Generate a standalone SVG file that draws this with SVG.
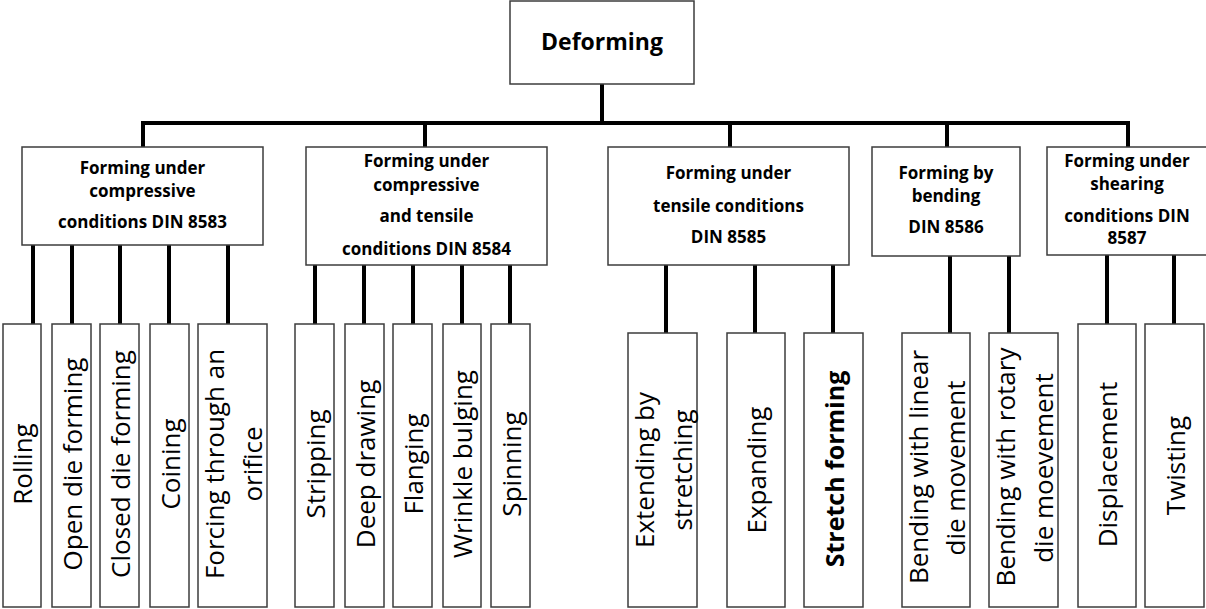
<svg xmlns="http://www.w3.org/2000/svg" width="1206" height="609" viewBox="0 0 1206 609">
<style>
.box{fill:#fff;stroke:#3c3c3c;stroke-width:1.5}
.c{stroke:#000;stroke-width:4;fill:none}
.t1{font-family:"Open Sans","DejaVu Sans",sans-serif;font-weight:bold;font-size:17px;text-anchor:middle;fill:#000}
.t0{font-family:"Open Sans","DejaVu Sans",sans-serif;font-weight:bold;font-size:23px;text-anchor:middle;fill:#000}
.lf{font-family:"Open Sans","DejaVu Sans",sans-serif;font-size:26px;text-anchor:middle;fill:#000}
.lb{font-family:"Open Sans","DejaVu Sans",sans-serif;font-size:25px;font-weight:bold;text-anchor:middle;fill:#000}
</style>
<rect width="1206" height="609" fill="#fff"/>
<g id="connectors">
<path class="c" d="M602 84V123M141 123H1130M143 123V147M425 123V147M730 123V147M947 123V147M1128 123V147"/>
<path class="c" d="M33 245V324M72 245V324M120 245V324M169 245V324M228 245V324"/>
<path class="c" d="M315 265V324M364 265V324M413 265V324M462 265V324M510 265V324"/>
<path class="c" d="M666 265V333M755 265V333M833 265V333"/>
<path class="c" d="M950 256V333M1009 256V333"/>
<path class="c" d="M1107 255V324M1174 255V324"/>
</g>
<g id="root"><rect class="box" x="510" y="1" width="184" height="83"/><text class="t0" x="602" y="50">Deforming</text></g>
<g id="compressive"><rect class="box" x="22" y="147" width="241" height="98"/>
<text class="t1" x="142.5" y="174">Forming under</text><text class="t1" x="142.5" y="197">compressive</text><text class="t1" x="142.5" y="228">conditions DIN 8583</text></g>
<g id="comp-tensile"><rect class="box" x="306" y="147" width="241" height="118"/>
<text class="t1" x="426.5" y="167">Forming under</text><text class="t1" x="426.5" y="191">compressive</text><text class="t1" x="426.5" y="222">and tensile</text><text class="t1" x="426.5" y="255">conditions DIN 8584</text></g>
<g id="tensile"><rect class="box" x="608" y="147" width="241" height="118"/>
<text class="t1" x="728.5" y="179">Forming under</text><text class="t1" x="728.5" y="212">tensile conditions</text><text class="t1" x="728.5" y="243">DIN 8585</text></g>
<g id="bending"><rect class="box" x="872" y="147" width="148" height="109"/>
<text class="t1" x="946" y="179">Forming by</text><text class="t1" x="946" y="202">bending</text><text class="t1" x="946" y="233">DIN 8586</text></g>
<g id="shearing"><rect class="box" x="1047" y="147" width="162" height="108"/>
<text class="t1" x="1127" y="167">Forming under</text><text class="t1" x="1127" y="190">shearing</text><text class="t1" x="1127" y="222">conditions DIN</text><text class="t1" x="1127" y="244">8587</text></g>

<g id="rolling"><rect class="box" x="3" y="324" width="38" height="283"/><text class="lf" transform="translate(32,464) rotate(-90)">Rolling</text></g>
<g id="open-die"><rect class="box" x="52" y="324" width="39" height="283"/><text class="lf" transform="translate(81.5,464) rotate(-90)">Open die forming</text></g>
<g id="closed-die"><rect class="box" x="100" y="324" width="39" height="283"/><text class="lf" transform="translate(129.5,464) rotate(-90)">Closed die forming</text></g>
<g id="coining"><rect class="box" x="150" y="324" width="39" height="283"/><text class="lf" transform="translate(179.5,464) rotate(-90)">Coining</text></g>
<g id="forcing"><rect class="box" x="198" y="324" width="69" height="283"/><text class="lf" transform="translate(224,464) rotate(-90)">Forcing through an</text><text class="lf" transform="translate(262,464) rotate(-90)">orifice</text></g>
<g id="stripping"><rect class="box" x="295" y="324" width="39" height="283"/><text class="lf" transform="translate(324.5,464) rotate(-90)">Stripping</text></g>
<g id="deep-drawing"><rect class="box" x="345" y="324" width="39" height="283"/><text class="lf" transform="translate(374.5,464) rotate(-90)">Deep drawing</text></g>
<g id="flanging"><rect class="box" x="393" y="324" width="39" height="283"/><text class="lf" transform="translate(422.5,464) rotate(-90)">Flanging</text></g>
<g id="wrinkle"><rect class="box" x="443" y="324" width="38" height="283"/><text class="lf" transform="translate(472,464) rotate(-90)">Wrinkle bulging</text></g>
<g id="spinning"><rect class="box" x="491" y="324" width="39" height="283"/><text class="lf" transform="translate(520.5,464) rotate(-90)">Spinning</text></g>

<g id="extending"><rect class="box" x="628" y="333" width="69" height="274"/><text class="lf" transform="translate(654,470) rotate(-90)">Extending by</text><text class="lf" transform="translate(691.5,470) rotate(-90)">stretching</text></g>
<g id="expanding"><rect class="box" x="727" y="333" width="58" height="274"/><text class="lf" transform="translate(766,470) rotate(-90)">Expanding</text></g>
<g id="stretch-forming"><rect class="box" x="804" y="333" width="59" height="274"/><text class="lb" transform="translate(843.5,469) rotate(-90)">Stretch forming</text></g>
<g id="bend-linear"><rect class="box" x="902" y="333" width="68" height="274"/><text class="lf" transform="translate(927.5,467) rotate(-90)">Bending with linear</text><text class="lf" transform="translate(965,468) rotate(-90)">die movement</text></g>
<g id="bend-rotary"><rect class="box" x="989" y="333" width="69" height="274"/><text class="lf" transform="translate(1015,467) rotate(-90)">Bending with rotary</text><text class="lf" transform="translate(1052.5,468) rotate(-90)">die moevement</text></g>
<g id="displacement"><rect class="box" x="1078" y="324" width="58" height="283"/><text class="lf" transform="translate(1117,464.5) rotate(-90)">Displacement</text></g>
<g id="twisting"><rect class="box" x="1145" y="324" width="59" height="283"/><text class="lf" transform="translate(1184.5,465.5) rotate(-90)">Twisting</text></g>
</svg>
